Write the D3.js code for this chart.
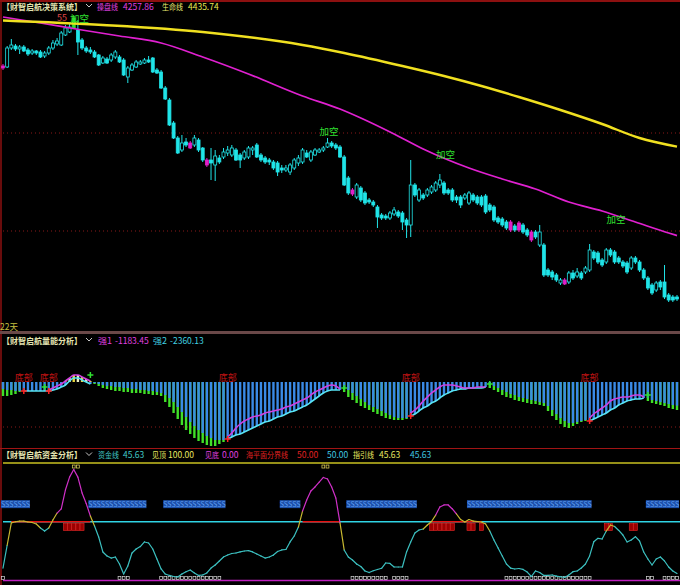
<!DOCTYPE html>
<html>
<head>
<meta charset="utf-8">
<script src="https://cdn.jsdelivr.net/npm/d3@7"></script>
<style>
  body { margin: 0; background: #000; }
  svg { display: block; }
  text { font-family: "Noto Sans CJK SC", "Noto Sans", sans-serif; }
</style>
</head>
<body>
<script>
// ---- price candles (163 bars) ----
const opens = [4593,4595,4633,4637,4631,4635,4629,4623,4627,4625,4617,4623,4633,4641,4639,4659,4665,4673,4669,4649,
  4633,4629,4625,4619,4603,4611,4609,4615,4615,4609,4575,4589,4595,4601,4603,4609,4613,4589,4585,4553,
  4529,4483,4453,4429,4445,4443,4439,4449,4433,4409,4409,4399,4413,4415,4423,4419,4429,4419,4413,4415,
  4429,4439,4419,4413,4409,4405,4403,4393,4389,4385,4393,4403,4405,4423,4409,4419,4425,4429,4435,4443,
  4439,4435,4415,4373,4349,4335,4353,4343,4329,4325,4315,4299,4297,4293,4301,4305,4303,4289,4279,4359,
  4329,4339,4339,4345,4349,4359,4363,4349,4349,4335,4335,4333,4323,4339,4335,4335,4337,4319,4315,4293,
  4291,4285,4285,4277,4283,4279,4269,4265,4265,4239,4239,4189,4185,4179,4163,4169,4165,4183,4177,4183,
  4185,4189,4225,4223,4209,4205,4229,4225,4213,4205,4203,4193,4213,4205,4189,4173,4159,4149,4165,4165,
  4139,4135,4135];
const closes = [4597,4633,4639,4631,4635,4627,4621,4627,4623,4615,4623,4633,4643,4647,4663,4673,4675,4693,4645,4633,
  4627,4625,4615,4599,4613,4603,4619,4625,4605,4579,4593,4599,4605,4605,4609,4605,4585,4583,4553,4531,
  4479,4453,4423,4443,4439,4433,4453,4429,4409,4399,4403,4417,4405,4425,4429,4433,4409,4409,4425,4433,
  4433,4415,4409,4405,4405,4393,4385,4389,4393,4399,4409,4413,4429,4415,4425,4429,4429,4433,4443,4437,
  4433,4415,4359,4343,4341,4359,4329,4323,4325,4319,4295,4293,4293,4303,4309,4297,4285,4279,4359,4339,
  4349,4333,4349,4355,4363,4369,4343,4343,4329,4329,4319,4339,4343,4329,4323,4319,4305,4309,4289,4285,
  4279,4273,4269,4269,4269,4265,4259,4249,4255,4265,4179,4179,4175,4169,4169,4161,4183,4173,4185,4173,
  4193,4229,4213,4205,4199,4229,4219,4205,4205,4197,4185,4213,4205,4189,4173,4153,4143,4163,4155,4135,
  4129,4129,4131];
const highs = [4601,4637,4651,4641,4639,4639,4633,4631,4629,4629,4627,4637,4649,4653,4667,4679,4683,4699,4689,4653,
  4637,4635,4629,4621,4617,4615,4623,4629,4619,4613,4597,4603,4609,4609,4613,4617,4615,4593,4589,4557,
  4533,4487,4457,4459,4453,4447,4459,4453,4435,4413,4433,4429,4419,4433,4437,4439,4433,4423,4429,4437,
  4437,4443,4423,4417,4413,4409,4407,4399,4399,4403,4413,4419,4433,4429,4429,4433,4433,4437,4453,4447,
  4443,4439,4419,4377,4353,4363,4357,4347,4333,4329,4319,4303,4301,4307,4315,4309,4307,4293,4409,4363,
  4353,4343,4353,4359,4367,4381,4367,4353,4353,4339,4339,4343,4347,4343,4339,4339,4341,4323,4319,4297,
  4295,4289,4289,4281,4287,4283,4273,4269,4269,4279,4243,4193,4189,4183,4173,4173,4187,4189,4193,4187,
  4197,4241,4229,4227,4213,4233,4233,4229,4217,4209,4207,4217,4217,4209,4193,4177,4163,4167,4169,4199,
  4143,4139,4139];
const lows = [4589,4593,4629,4627,4621,4625,4617,4619,4619,4613,4613,4619,4629,4637,4637,4657,4663,4671,4619,4629,
  4623,4621,4613,4597,4601,4601,4605,4611,4603,4577,4563,4587,4593,4599,4601,4603,4583,4581,4551,4529,
  4477,4451,4421,4425,4435,4431,4435,4425,4405,4395,4369,4367,4401,4411,4417,4415,4407,4393,4409,4411,
  4419,4413,4405,4401,4399,4389,4377,4383,4385,4379,4389,4397,4401,4413,4405,4417,4423,4425,4433,4433,
  4429,4413,4357,4339,4337,4331,4325,4319,4321,4315,4273,4289,4289,4289,4297,4293,4269,4253,4255,4335,
  4325,4329,4335,4341,4345,4353,4339,4339,4325,4323,4313,4329,4319,4325,4319,4315,4301,4305,4285,4281,
  4275,4269,4265,4265,4265,4261,4255,4245,4251,4235,4175,4175,4169,4165,4159,4159,4161,4169,4173,4169,
  4181,4185,4209,4201,4195,4201,4215,4201,4201,4193,4181,4189,4201,4185,4169,4149,4139,4145,4149,4131,
  4125,4125,4127];
const magentaBars = [0, 45, 49, 84, 122, 124, 127, 135];
const greenBars = [17];

// moving averages read at sample bars
const lifeIdx = [0, 24, 48, 72, 82, 96, 106, 115, 124, 134, 144, 153, 162];
const lifeVal = [4688, 4679, 4665, 4639, 4623, 4597, 4577, 4557, 4535, 4509, 4481, 4453, 4435.74];
const opIdx = [0, 9, 19, 28, 38, 48, 59, 72, 81, 86, 94, 101, 112, 120, 128, 136, 144, 152, 160, 162];
const opVal = [4695, 4683, 4669, 4657, 4643, 4615, 4581, 4537, 4511, 4493, 4461, 4431, 4393, 4371, 4351, 4325, 4307, 4285, 4263, 4257.86];

// 加空 signals
const signalIdx = [18, 78, 106, 147];
const signalPrice = [4694, 4467, 4421, 4291];
const gridPrices = [4463, 4267];

// ---- 量能 panel ----
const volBlue = [-700,-800,-800,-900,-900,-900,-900,-900,-900,-900,-900,-900,-800,-700,-500,-300,100,400,400,200,
  0,-200,-100,-200,-300,-400,-400,-500,-500,-600,-600,-700,-700,-800,-800,-900,-900,-1000,-1100,-1300,
  -1600,-2000,-2500,-3000,-3500,-4000,-4400,-4800,-5100,-5400,-5600,-5800,-5800,-5800,-5700,-5500,-5300,-5200,-5000,-4800,
  -4600,-4400,-4200,-4000,-3900,-3700,-3500,-3400,-3200,-3000,-2900,-2700,-2500,-2300,-2000,-1700,-1400,-1100,-900,-800,
  -800,-800,-600,-800,-1100,-1400,-1700,-2000,-2300,-2500,-2700,-2900,-3100,-3300,-3500,-3600,-3600,-3600,-3400,-3200,
  -2900,-2600,-2400,-2100,-1900,-1600,-1300,-1100,-900,-800,-700,-700,-600,-600,-600,-600,-500,-200,-400,-600,
  -800,-1000,-1200,-1300,-1500,-1600,-1700,-1800,-1900,-2000,-2100,-2400,-2800,-3200,-3600,-3900,-4100,-4100,-4000,-3900,
  -3800,-3900,-3700,-3500,-3300,-3100,-2800,-2600,-2300,-2100,-1900,-1800,-1700,-1700,-1600,-1600,-1800,-1900,-2000,-2100,
  -2200,-2300,-2360.13];
const _ = null;
const volGreen = [-1400,-1400,-1300,-1200,-1000,_,_,_,_,_,_,_,_,_,_,_,_,_,_,_,
  _,_,-200,-400,-600,-700,-800,-900,-900,-1000,-1000,-1100,-1100,-1100,-1200,-1200,-1300,-1300,-1400,-2000,
  -2500,-3100,-3700,-4300,-4800,-5200,-5600,-5900,-6100,-6300,-6400,-6400,-6200,-6000,_,_,_,_,_,_,
  _,_,_,_,_,_,_,_,_,_,_,_,_,_,_,_,_,_,_,_,
  _,_,-1000,-1500,-1800,-2100,-2400,-2600,-2800,-3000,-3200,-3400,-3600,-3700,-3800,-3800,-3800,-3700,_,_,
  _,_,_,_,_,_,_,_,_,_,_,_,_,_,_,_,_,-600,-800,-1000,
  -1300,-1500,-1600,-1800,-1900,-2000,-2100,-2200,-2200,-2300,-2400,-2900,-3400,-3800,-4200,-4500,-4600,-4400,-4200,-4000,
  -3900,_,_,_,_,_,_,_,_,_,_,_,_,_,_,-1900,-2100,-2200,-2300,-2400,
  -2600,-2700,-2800];
const qiang1 = [_,_,_,_,_,_,_,_,_,_,_,-800,-600,-400,-200,100,400,700,700,500,
  300,100,_,_,_,_,_,_,_,_,_,_,_,_,_,_,_,_,_,_,
  _,_,_,_,_,_,_,_,_,_,_,_,_,_,-5500,-5100,-4600,-4200,-3900,-3700,
  -3500,-3400,-3300,-3100,-3000,-2900,-2800,-2700,-2500,-2400,-2200,-2000,-1800,-1600,-1300,-1000,-800,-600,-400,-300,
  -400,-700,_,_,_,_,_,_,_,_,_,_,_,_,_,_,_,_,-3100,-2800,
  -2400,-1900,-1500,-1100,-800,-500,-300,-300,-300,-400,-500,-600,-600,-600,-500,-500,-500,_,_,_,
  _,_,_,_,_,_,_,_,_,_,_,_,_,_,_,_,_,_,_,_,
  _,-3600,-3200,-2900,-2600,-2300,-1900,-1700,-1600,-1500,-1500,-1400,-1300,-1300,-1500,_,_,_,_,_,
  _,_,_];
const riseRanges = [[5, 21], [54, 81], [98, 116], [141, 154]];
const bottomIdx = [5, 11, 54, 98, 141];
const crossIdx = [10, 21, 82, 117, 155];
const crossVal = [-500, 700, -600, -200, -1300];

// ---- 资金 panel ----
const fund = [10.6,30,49,50,50.6,50.6,49.8,49.4,48.1,44.7, 42.1,44.7,51.5,57.4,60.9,77,88,94.5,88,74.5,
  65.5,54.9,46.4,37,24.3,20.9,19.1,20,14,5.5, 12.3,23.4,26.8,28.9,32.8,31.9,26.8,18.3,9.8,5.5,
  4.3,3.4,3,5.5,7.5,8.9,6.4,4.3,4.7,6.4, 10.6,13.2,16.6,20,21.7,23,23.4,24.3,25.1,25.4,
  24.3,22.6,20.9,19.1,20,21.7,24.7,26,26.4,32.8, 37.9,45.5,59.1,68.5,76.2,79.6,83.8,87.7,86.4,79.6,
  70.2,49,26,20,17.4,14,11.9,8.1,6.8,8.3, 9.4,10.4,14.9,14.5,11.5,11.5,11.5,24.3,32.8,40.4,
  43,43.8,47.2,50.2,55.7,62.6,64.3,64.3,60.9,56.6, 51.9,49.8,51.9,50.6,50.2,49.8,48.1,42.1,34.5,27.7,
  20.9,14,10.6,9.8,10.2,9.4,7.2,3.4,8.1,6.8, 4.3,4.3,4.7,3.8,3.2,2.6,4.7,7.5,8.1,10.6,
  14,20.9,33,35.9,35.3,42.1,47.2,46,42.6,38.7, 32.8,34.5,37.3,33.6,24.3,18.3,13.2,18.3,20,16.6,
  11.5,8.1,6];
const redRanges = [[2, 21], [72, 81], [103, 115]];
const sRanges = [[0, 6], [21, 34], [39, 53], [67, 71], [83, 99], [112, 141], [155, 162]];
const bRanges = [[15, 19], [103, 108], [112, 113], [115, 115], [145, 146], [151, 152]];
const lowRanges = [[0, 0], [28, 30], [38, 52], [84, 92], [94, 97], [121, 141], [155, 156], [159, 162]];
const topRanges = [[17, 18], [77, 78]];

const N = closes.length;
const width = 680, height = 585;

const svg = d3.select("body").append("svg")
  .attr("width", width).attr("height", height)
  .style("background", "#000");

const x = d3.scaleLinear().domain([0, N - 1]).range([3, 677]);
const yPrice = d3.scaleLinear().domain([4129, 4689]).range([300, 20]);
const yVol = d3.scaleLinear().domain([-6500, 0]).range([447, 382]);
const yFund = d3.scaleLinear().domain([0, 100]).range([580.5, 463]);

const idx = d3.range(N);
const expand = ranges => ranges.flatMap(r => d3.range(r[0], r[1] + 1));

// ---- frame ----
svg.append("line").attr("x1", 0).attr("x2", width).attr("y1", 1).attr("y2", 1)
  .attr("stroke", "#8c1010").attr("stroke-width", 2);
svg.append("line").attr("x1", 1).attr("x2", 1).attr("y1", 0).attr("y2", height)
  .attr("stroke", "#8c1010").attr("stroke-width", 1.5);
svg.append("rect").attr("x", 0).attr("y", 331).attr("width", width).attr("height", 3)
  .attr("fill", "#6a4848");
svg.append("line").attr("x1", 0).attr("x2", width).attr("y1", 448.5).attr("y2", 448.5)
  .attr("stroke", "#a01414").attr("stroke-width", 1.2);

// header helper: title + chevron + coloured label/value pairs
const isCJK = s => /[\u4e00-\u9fff]/.test(s);
function header(y, title, parts) {
  svg.append("text").attr("x", 2).attr("y", y).attr("fill", "#e4e4b0")
    .attr("font-size", 8.5).attr("font-weight", "bold")
    .attr("textLength", 80).attr("lengthAdjust", "spacingAndGlyphs").text(title);
  svg.append("path").attr("d", `M86,${y - 5.5} L89,${y - 2.5} L92,${y - 5.5}`)
    .attr("fill", "none").attr("stroke", "#c8c8c8").attr("stroke-width", 1);
  parts.forEach(p => {
    const t = svg.append("text").attr("x", p[0]).attr("y", y).attr("fill", p[2])
      .attr("font-size", 8.5).text(p[1]);
    if (isCJK(p[1])) {
      t.attr("textLength", p[1].length * 7).attr("lengthAdjust", "spacingAndGlyphs");
    }
  });
}

// ---- panel 1: price ----
const g1 = svg.append("g");
gridPrices.forEach(p => {
  g1.append("line").attr("x1", 3).attr("x2", width).attr("y1", yPrice(p)).attr("y2", yPrice(p))
    .attr("stroke", "#8a1818").attr("stroke-dasharray", "1,3");
});

const candleColor = i => greenBars.includes(i) ? "#30e030"
  : magentaBars.includes(i) ? "#e020c8" : "#20e4e8";

g1.selectAll("line.wick").data(idx).enter().append("line")
  .attr("class", "wick")
  .attr("x1", i => x(i)).attr("x2", i => x(i))
  .attr("y1", i => yPrice(highs[i])).attr("y2", i => yPrice(lows[i]))
  .attr("stroke", candleColor).attr("stroke-width", 1);

g1.selectAll("rect.body").data(idx).enter().append("rect")
  .attr("class", "body")
  .attr("x", i => x(i) - 1.5).attr("width", 3)
  .attr("y", i => yPrice(Math.max(opens[i], closes[i])))
  .attr("height", i => Math.max(1, Math.abs(yPrice(opens[i]) - yPrice(closes[i]))))
  .attr("fill", i => (closes[i] > opens[i] && candleColor(i) === "#20e4e8") ? "#000" : candleColor(i))
  .attr("stroke", candleColor).attr("stroke-width", 0.8);

const maLine = d3.line().x(d => x(d[0])).y(d => yPrice(d[1])).curve(d3.curveMonotoneX);
g1.append("path").attr("d", maLine(d3.zip(opIdx, opVal)))
  .attr("fill", "none").attr("stroke", "#e020d0").attr("stroke-width", 1.7);
g1.append("path").attr("d", maLine(d3.zip(lifeIdx, lifeVal)))
  .attr("fill", "none").attr("stroke", "#f0e020").attr("stroke-width", 2.4);

g1.append("text").attr("x", 67).attr("y", yPrice(signalPrice[0]) + 3.5)
  .attr("text-anchor", "end").attr("fill", "#e04848").attr("font-size", 9).text("55");
g1.selectAll("text.sig").data(signalIdx).enter().append("text")
  .attr("class", "sig")
  .attr("x", i => x(i) + 1.5).attr("y", (d, k) => yPrice(signalPrice[k]) + 4)
  .attr("text-anchor", "middle").attr("fill", "#30e030").attr("font-size", 9.5)
  .text("加空");

svg.append("text").attr("x", 0).attr("y", 330).attr("fill", "#c8c040")
  .attr("font-size", 8.5).text("22天");

header(9.5, "【财智启航决策系统】", [
  [97, "操盘线", "#e040e0"], [123, "4257.86", "#e040e0"],
  [162, "生命线", "#eaea70"], [188, "4435.74", "#eaea50"]
]);

// ---- panel 2: 量能 ----
const g2 = svg.append("g");
g2.append("line").attr("x1", 3).attr("x2", width).attr("y1", yVol(-4500)).attr("y2", yVol(-4500))
  .attr("stroke", "#8a1818").attr("stroke-dasharray", "1,3");

g2.selectAll("rect.green").data(idx.filter(i => volGreen[i] !== null)).enter().append("rect")
  .attr("class", "green")
  .attr("x", i => x(i) - 1.2).attr("width", 2.4)
  .attr("y", yVol(0)).attr("height", i => yVol(volGreen[i]) - yVol(0))
  .attr("fill", "#40e028");
g2.selectAll("rect.blue").data(idx.filter(i => volBlue[i] < 0)).enter().append("rect")
  .attr("class", "blue")
  .attr("x", i => x(i) - 1.2).attr("width", 2.4)
  .attr("y", yVol(0)).attr("height", i => yVol(volBlue[i]) - yVol(0))
  .attr("fill", "#3a8ae6");
g2.selectAll("rect.pos").data(idx.filter(i => qiang1[i] !== null && qiang1[i] > 0)).enter().append("rect")
  .attr("class", "pos")
  .attr("x", i => x(i) - 1.2).attr("width", 2.4)
  .attr("y", i => yVol(qiang1[i])).attr("height", i => yVol(0) - yVol(qiang1[i]))
  .attr("fill", (i, k) => k % 2 ? "#f0f0c0" : "#e8d840");

const volLine = d3.line().defined(d => d[1] !== null)
  .x(d => x(d[0])).y(d => yVol(d[1])).curve(d3.curveMonotoneX);
riseRanges.forEach(r => {
  const ids = d3.range(r[0], r[1] + 1);
  g2.append("path").attr("d", volLine(ids.map(i => [i, volBlue[i]])))
    .attr("fill", "none").attr("stroke", "#58e4f4").attr("stroke-width", 1.6);
  g2.append("path").attr("d", volLine(ids.map(i => [i, qiang1[i]])))
    .attr("fill", "none").attr("stroke", "#d040e0").attr("stroke-width", 1.6);
});

const plus = "M-3,0H3M0,-3V3";
g2.selectAll("path.bot").data(bottomIdx).enter().append("path")
  .attr("class", "bot").attr("d", plus)
  .attr("transform", i => `translate(${x(i)},${yVol(volBlue[i])})`)
  .attr("stroke", "#ff2020").attr("stroke-width", 1.5);
g2.selectAll("text.bot").data(bottomIdx).enter().append("text")
  .attr("class", "bot")
  .attr("x", i => x(i)).attr("y", 381)
  .attr("text-anchor", "middle").attr("fill", "#c41414").attr("font-size", 9)
  .text("底部");
g2.selectAll("path.cross").data(crossIdx).enter().append("path")
  .attr("class", "cross").attr("d", plus)
  .attr("transform", (i, k) => `translate(${x(i)},${yVol(crossVal[k])})`)
  .attr("stroke", "#30e030").attr("stroke-width", 1.5);

header(343.5, "【财智启航量能分析】", [
  [98, "强1", "#e040e0"], [115, "-1183.45", "#e040e0"],
  [153, "强2", "#40d0e0"], [170, "-2360.13", "#40d0e0"]
]);

// ---- panel 3: 资金 ----
const g3 = svg.append("g");
g3.append("line").attr("x1", 3).attr("x2", width).attr("y1", yFund(100)).attr("y2", yFund(100))
  .attr("stroke", "#c8c020").attr("stroke-width", 1.3);
g3.append("line").attr("x1", 3).attr("x2", width).attr("y1", yFund(0)).attr("y2", yFund(0))
  .attr("stroke", "#c020c0").attr("stroke-width", 1.5);
g3.append("line").attr("x1", 3).attr("x2", width).attr("y1", yFund(50)).attr("y2", yFund(50))
  .attr("stroke", "#30d4e4").attr("stroke-width", 1.6);
redRanges.forEach(r => {
  g3.append("line").attr("x1", x(r[0])).attr("x2", x(r[1])).attr("y1", yFund(50)).attr("y2", yFund(50))
    .attr("stroke", "#e81010").attr("stroke-width", 1.6);
});

// S band
sRanges.forEach(r => {
  g3.append("rect").attr("x", x(r[0]) - 2).attr("width", x(r[1]) - x(r[0]) + 4)
    .attr("y", yFund(65) - 4).attr("height", 8).attr("fill", "#1c4fa8");
});
g3.selectAll("text.s").data(expand(sRanges)).enter().append("text")
  .attr("class", "s")
  .attr("x", i => x(i)).attr("y", yFund(65) + 3)
  .attr("text-anchor", "middle").attr("fill", "#5c9cf0").attr("font-size", 7).text("S");

g3.selectAll("rect.b").data(expand(bRanges)).enter().append("rect")
  .attr("class", "b")
  .attr("x", i => x(i) - 2).attr("width", 4)
  .attr("y", yFund(45.5) - 3.5).attr("height", 7)
  .attr("fill", "#9c0000").attr("stroke", "#e02828").attr("stroke-width", 0.6);

g3.selectAll("rect.low").data(expand(lowRanges)).enter().append("rect")
  .attr("class", "low")
  .attr("x", i => x(i) - 1.4).attr("width", 2.8)
  .attr("y", yFund(2) - 1.8).attr("height", 3)
  .attr("fill", "none").attr("stroke", "#d8d8d8").attr("stroke-width", 0.7);
g3.selectAll("rect.top").data(expand(topRanges)).enter().append("rect")
  .attr("class", "top")
  .attr("x", i => x(i) - 1.4).attr("width", 2.8)
  .attr("y", yFund(97) - 1.5).attr("height", 3)
  .attr("fill", "none").attr("stroke", "#e8d860").attr("stroke-width", 0.7);

const fundColor = v => v >= 60 ? "#d030c8" : v >= 47 ? "#c8b830" : "#3cc0c0";
g3.selectAll("line.fund").data(d3.range(N - 1)).enter().append("line")
  .attr("class", "fund")
  .attr("x1", i => x(i)).attr("y1", i => yFund(fund[i]))
  .attr("x2", i => x(i + 1)).attr("y2", i => yFund(fund[i + 1]))
  .attr("stroke", i => fundColor(Math.max(fund[i], fund[i + 1])))
  .attr("stroke-width", 1.2).attr("stroke-linecap", "round");

header(458, "【财智启航资金分析】", [
  [98, "资金线", "#40c8c8"], [123, "45.63", "#40c8c8"],
  [152, "见顶", "#e8e860"], [168, "100.00", "#e8e860"],
  [205, "见底", "#e040e0"], [222, "0.00", "#e040e0"],
  [246, "海平面分界线", "#e02020"], [297, "50.00", "#e02020"],
  [327, "50.00", "#40c8e0"],
  [353, "指引线", "#e8e860"], [379, "45.63", "#e8e860"],
  [410, "45.63", "#40c8e0"]
]);
</script>
</body>
</html>
